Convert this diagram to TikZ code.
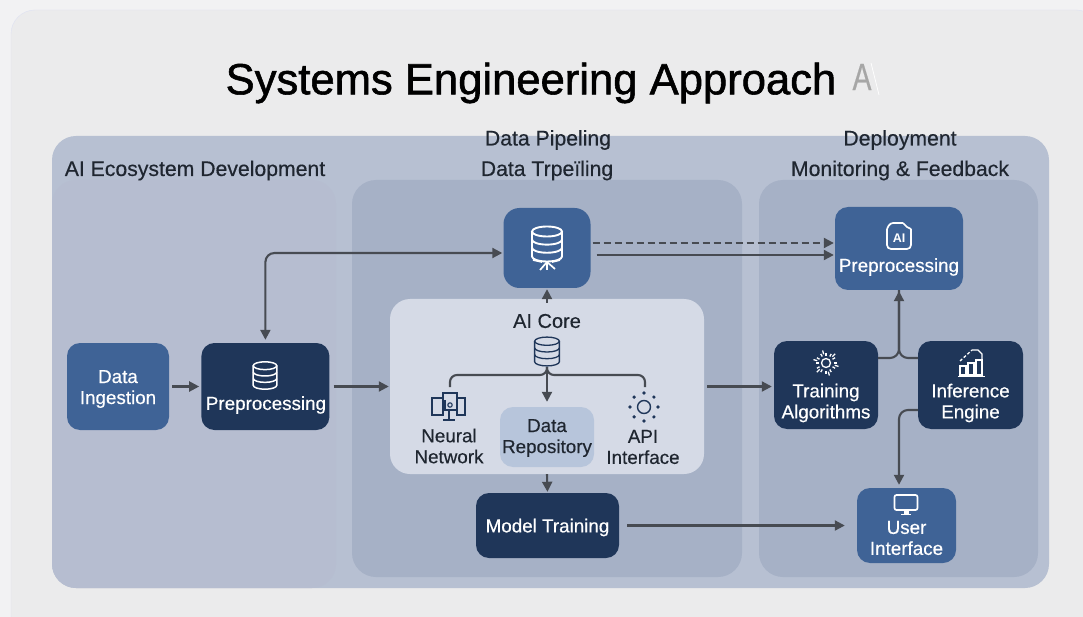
\documentclass[tikz,border=0pt]{standalone}
\usepackage{fontspec}
\setmainfont{Liberation Sans}
\newfontfamily\titlefont[FakeBold=1.3]{Liberation Sans}
\newfontfamily\mediumfont[FakeBold=0.4]{Liberation Sans}
\usetikzlibrary{arrows.meta,positioning}

\definecolor{pagegray}{HTML}{F2F2F3}
\definecolor{cardgray}{HTML}{EBEBEC}
\definecolor{cardedge}{HTML}{DEE1F2}
\definecolor{bandblue}{HTML}{B7C0D2}
\definecolor{leftblue}{HTML}{B6BDD0}
\definecolor{midblue}{HTML}{A6B1C6}
\definecolor{coreblue}{HTML}{D5DAE6}
\definecolor{repoblue}{HTML}{B7C5DB}
\definecolor{steelblue}{HTML}{3F6396}
\definecolor{navyblue}{HTML}{1F3659}
\definecolor{linegray}{HTML}{474B52}
\definecolor{inkgray}{HTML}{1F2630}

\tikzset{
  panel/.style={draw=none,rounded corners=24pt,inner sep=0pt},
  box/.style={rounded corners=13pt,inner sep=0pt},
  bluebox/.style={box,fill=steelblue},
  navybox/.style={box,fill=navyblue},
  boxtext/.style={inner sep=0pt,align=center,text=white,
    font=\mediumfont\fontsize{18.8}{21}\selectfont},
  coretext/.style={inner sep=0pt,align=center,text=inkgray,
    font=\mediumfont\fontsize{18.8}{21}\selectfont},
  headtext/.style={inner sep=0pt,text=inkgray,font=\mediumfont\fontsize{21.2}{24}\selectfont},
  flow/.style={draw=linegray,line width=2.1pt,
    -{Triangle[length=10pt,width=10pt]}},
  plainflow/.style={draw=linegray,line width=2.1pt},
  pics/dbicon/.style={code={
    \draw (0,-10) ellipse [x radius=12,y radius=4];
    \draw (-12,-10) -- (-12,10) arc [start angle=180,end angle=0,x radius=12,y radius=4] -- (12,-10);
    \draw (-12,-3.5) arc [start angle=180,end angle=0,x radius=12,y radius=4];
    \draw (-12,3) arc [start angle=180,end angle=0,x radius=12,y radius=4];
  }},
  pics/sunicon/.style={code={
    \draw (0,0) circle (6.5);
    \foreach \a in {0,45,...,315} \fill (\a:14) circle (1.8);
  }},
  pics/gearicon/.style={code={
    \draw (0,0) circle (4.5);
    \foreach \a in {0,30,...,330} \draw (\a:7.5) -- (\a:10.5);
    \foreach \a in {15,75,...,345} \draw (\a:9) -- (\a:13);
  }},
  pics/neticon/.style={code={
    \draw (-16,-8) rectangle (-5,9);
    \draw (-5,-13) rectangle (9,4);
    \draw (9,-8) rectangle (17,9);
    \draw (1,4) -- (1,14) (-5,14) -- (7,14);
    \draw (2,-1) circle (2.2);
    \draw (-3,-6) -- (-3,3);
  }},
  pics/chartedicon/.style={code={
    \draw (-11,3) rectangle (-5,12);
    \draw (-3,0) rectangle (3,12);
    \draw (5,-3) rectangle (11,12);
    \draw (-13,13.5) -- (14,13.5);
    \draw[densely dashed] (-11,-2) -- (1,-13);
    \draw (1,-13) -- (7,-13) -- (11,-9) -- (11,-3);
  }},
  pics/docicon/.style={code={
    \draw[rounded corners=4pt] (-12,-7) -- (-12,13) -- (12,13) -- (12,-7);
    \draw[rounded corners=3pt] (-12,-7) -- (-9,-13) -- (4,-13);
    \draw (4,-13) -- (8,-9) -- (12,-7);
  }},
  pics/screenicon/.style={code={
    \draw[rounded corners=2pt] (-11.5,-10) rectangle (11.5,5);
    \fill (-2.5,5) rectangle (2.5,9);
    \fill (-5,8.5) rectangle (5,10);
  }}
}

\begin{document}
\begin{tikzpicture}[x=1pt,y=-1pt]
  \useasboundingbox (0,0) rectangle (1083,617);
  \fill[pagegray] (0,0) rectangle (1083,617);
  \draw[cardedge,fill=cardgray,rounded corners=24pt] (11,10) rectangle (1100,640);

  \node[inner sep=0pt,font=\titlefont\fontsize{43.6}{48}\selectfont,text=black] (title) at (531,83) {Systems Engineering Approach};
  \node[inner sep=0pt,xscale=.75,font=\mediumfont\fontsize{38}{44}\selectfont,text=black!35] (ghost) at (862,77) {A};
  \coordinate (ghosta) at (871,63);
  \coordinate (ghostb) at (879,95);
  \draw[white,line width=.7pt] (ghosta) -- (ghostb);

  \node[panel,fill=bandblue,minimum width=997pt,minimum height=452pt] (band) at (550.5,362) {};
  \node[panel,fill=leftblue,minimum width=284pt,minimum height=408pt] (leftpanel) at (194,384) {};
  \node[panel,fill=midblue,minimum width=390pt,minimum height=397pt] (midpanel) at (547,378.5) {};
  \node[panel,fill=midblue,minimum width=279pt,minimum height=397pt] (rightpanel) at (898.5,378.5) {};
  \node[panel,fill=coreblue,rounded corners=20pt,minimum width=314pt,minimum height=175pt] (core) at (547,386.5) {};

  \node[headtext] (headleft) at (195,170.5) {AI Ecosystem Development};
  \node[headtext] (headpipe) at (548,140) {Data Pipeling};
  \node[headtext] (headtrail) at (547,170.5) {Data Trpeïling};
  \node[headtext] (headdeploy) at (900,140) {Deployment};
  \node[headtext] (headmon) at (900,170.5) {Monitoring \& Feedback};

  \begin{scope}[every node/.style={minimum height=87pt}]
    \node[bluebox,minimum width=102pt] (ingest) at (118,386.5) {};
    \node[navybox,minimum width=128pt,right=32pt of ingest] (prep) {};
    \node[bluebox,rounded corners=16pt,minimum width=87pt,minimum height=80pt] (store) at (547,248) {};
    \node[bluebox,minimum width=128pt,minimum height=83pt] (aiprep) at (899,248.5) {};
    \node[navybox,minimum width=104pt,minimum height=88pt] (train) at (826,385) {};
    \node[navybox,minimum width=105pt,minimum height=88pt] (infer) at (970.5,385) {};
    \node[bluebox,minimum width=99pt,minimum height=75pt] (user) at (906.5,525.5) {};
    \node[navybox,minimum width=143pt,minimum height=65pt] (model) at (547.5,525.5) {};
    \node[box,fill=repoblue,minimum width=94pt,minimum height=60pt] (repo) at (547,437) {};
  \end{scope}

  \node[boxtext] (ingesttext) at (118,389) {Data\\Ingestion};
  \node[boxtext] (preptext) at (266,405) {Preprocessing};
  \node[boxtext] (aipreptext) at (899,267) {Preprocessing};
  \node[boxtext] (traintext) at (826,403) {Training\\Algorithms};
  \node[boxtext] (infertext) at (970.5,403) {Inference\\Engine};
  \node[boxtext] (usertext) at (906.5,538) {User\\Interface};
  \node[boxtext] (modeltext) at (547.5,527.5) {Model Training};
  \node[coretext,font=\mediumfont\fontsize{20}{24}\selectfont] (coretitle) at (547,321) {AI Core};
  \node[coretext] (nettext) at (449,446) {Neural\\Network};
  \node[coretext] (repotext) at (547,438) {Data\\Repository};
  \node[coretext] (apitext) at (643,447) {API\\Interface};
  \node[inner sep=0pt,text=white,font=\bfseries\fontsize{12.5}{14}\selectfont] (doctext) at (899,238) {AI};

  \pic[white,line width=1.5pt,scale=.98] at (265,375.5) {dbicon};
  \pic[white,line width=1.9pt,scale=1.25] at (547,244) {dbicon};
  \draw[white,line width=1.7pt] (533,260) -- (542,262) (547,262) -- (540,270) (547,262) -- (547,270) (547,262) -- (555,269) (552,262) -- (560,260);
  \pic[navyblue,line width=1.3pt,scale=1.03] at (547,351.5) {dbicon};
  \pic[navyblue,line width=1.1pt] at (448,406) {neticon};
  \pic[navyblue,line width=1.4pt] at (644,407) {sunicon};
  \pic[white,line width=1.7pt] at (899,236) {docicon};
  \pic[white,line width=1.3pt] at (826,363) {gearicon};
  \pic[white,line width=1.3pt] at (971,363) {chartedicon};
  \pic[white,line width=1.7pt] at (906,505) {screenicon};

  \coordinate (corefork) at (547,367);
  \coordinate (nettop) at (450,387);
  \coordinate (apitop) at (645,387);
  \coordinate (trainout) at (878,358);
  \coordinate (inferout) at (918,358);
  \coordinate (inferlow) at (918,410);

  \begin{scope}[every edge/.style={flow}]
    \path (ingest) edge[shorten <=3pt,shorten >=2pt] (prep);
    \path (prep) edge[shorten <=4pt,shorten >=1pt] (core);
    \path ([yshift=-7pt]store.east) edge[shorten <=6pt,shorten >=1pt] ([yshift=-6.5pt]aiprep.west);
    \path ([yshift=5pt]store.east) edge[dash pattern=on 7pt off 4pt,shorten <=2pt,shorten >=1pt] ([yshift=5.5pt]aiprep.west);
    \path ([yshift=-4pt]core.north) edge[shorten >=1pt] (store);
    \path (corefork) edge[shorten >=5pt] (repo);
    \path (core.south) edge[shorten >=1pt] (model.north);
    \path (core.east) edge[shorten <=3pt,shorten >=2pt] (core.east -| train.west);
    \path (model) edge[shorten <=8pt,shorten >=12pt] (user);
  \end{scope}

  \draw[flow,{Triangle[length=10pt,width=10pt]}-{Triangle[length=10pt,width=10pt]},rounded corners=9pt,shorten <=3pt,shorten >=1pt] (prep.north) |- ([yshift=-5pt]store.west);
  \draw[plainflow,rounded corners=7pt] (corefork) -- ++(0,8) -| (nettop);
  \draw[plainflow,rounded corners=7pt] (corefork) -- ++(0,8) -| (apitop);
  \draw[flow,rounded corners=9pt,shorten >=1pt] (trainout) -| (aiprep.south);
  \draw[plainflow,rounded corners=9pt] (inferout) -| (aiprep.south);
  \draw[flow,rounded corners=9pt,shorten >=3pt] (inferlow) -| ([xshift=-7.5pt]user.north);
\end{tikzpicture}
\end{document}
